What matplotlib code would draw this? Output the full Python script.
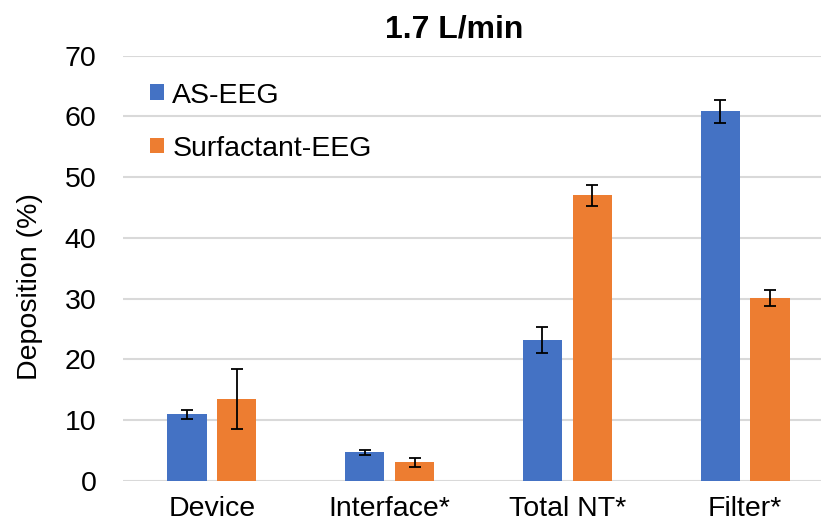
import matplotlib.pyplot as plt
import numpy as np

plt.rcParams['font.family'] = ['Liberation Sans', 'DejaVu Sans']

categories = ["Device", "Interface*", "Total NT*", "Filter*"]
as_eeg = [11.0, 4.7, 23.2, 60.8]
as_eeg_err = [0.75, 0.4, 2.2, 1.9]
surf_eeg = [13.5, 3.05, 47.0, 30.1]
surf_eeg_err = [5.0, 0.75, 1.7, 1.35]

blue = "#4472C4"
orange = "#ED7D31"

fig = plt.figure(figsize=(8.21, 5.27), dpi=100)
ax = fig.add_axes([123 / 821, 46 / 527, 711 / 821, 425.5 / 527])

x = np.arange(len(categories))
w = 0.22
gap = 0.06
off = (w + gap) / 2
err_kw = dict(ecolor="black", elinewidth=1.3, capsize=4.5, capthick=1.3)
ax.bar(x - off, as_eeg, w, yerr=as_eeg_err, color=blue, label="AS-EEG",
       error_kw=err_kw, zorder=3)
ax.bar(x + off, surf_eeg, w, yerr=surf_eeg_err, color=orange,
       label="Surfactant-EEG", error_kw=err_kw, zorder=3)

ax.set_xlim(-0.5, 3.5)
ax.set_ylim(0, 70)
ax.set_yticks(range(0, 71, 10))
ax.set_xticks(x)
ax.set_xticklabels(categories)
ax.tick_params(axis="both", length=0, colors="#000000")
ax.tick_params(axis="y", pad=19, labelsize=20.5)
ax.tick_params(axis="x", pad=11, labelsize=20.5)
ax.grid(axis="y", color="#d9d9d9", linewidth=1.5, zorder=0)
for s in ax.spines.values():
    s.set_visible(False)

ax.set_ylabel("Deposition (%)", fontsize=20.5)
ax.yaxis.set_label_coords(-0.112, 0.457)
ax.set_title("1.7 L/min", fontsize=23, fontweight="bold", pad=13,
             x=(454 - 123) / 711)

ax.legend(loc="upper left", bbox_to_anchor=(0.0, 1.0), frameon=False,
          fontsize=20.5, handlelength=0.48, handleheight=0.48,
          handletextpad=0.3, labelspacing=0.95, borderaxespad=0.55)

fig.savefig("out.png", dpi=100)
